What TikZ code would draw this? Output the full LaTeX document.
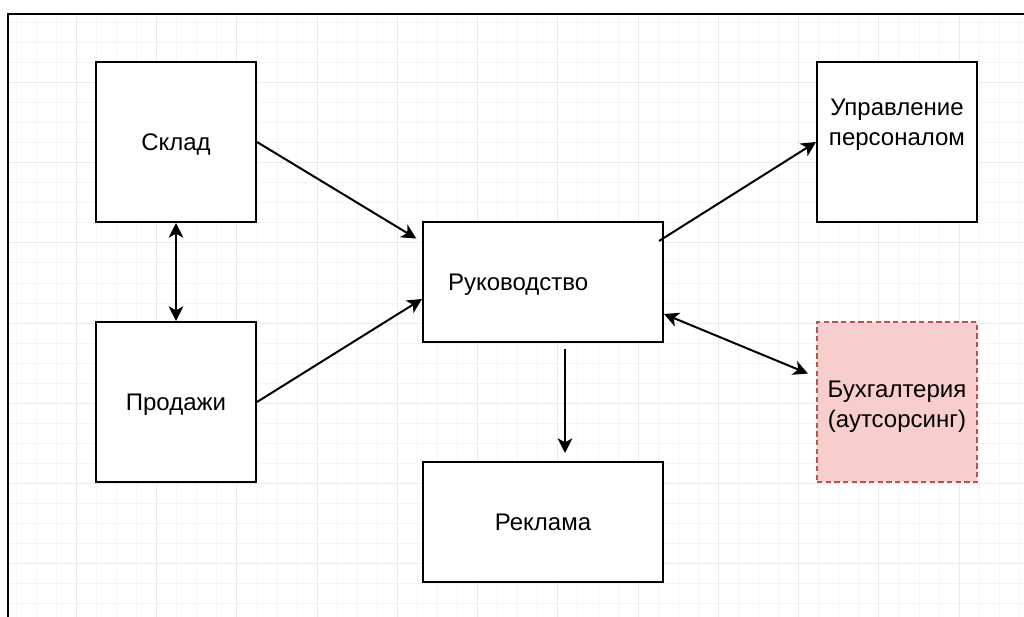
\documentclass[tikz,border=0pt]{standalone}
\usepackage{fontspec}
\setmainfont{Liberation Sans}
\usetikzlibrary{arrows.meta}
\definecolor{buhfill}{HTML}{F8CECC}
\definecolor{buhline}{HTML}{B85450}

\begin{document}
\begin{tikzpicture}[x=0.75pt, y=-0.75pt, thick,
		>={Stealth[length=11pt, width=11pt, inset=3pt]},
		box/.style={rectangle, draw, line width=1.5pt, fill=white, inner sep=0pt,
			font=\fontsize{18}{22.5}\selectfont, align=center, text depth=0pt},
		sq/.style={box, minimum width=120pt, minimum height=120pt},
		wide/.style={box, minimum width=180pt, minimum height=90pt},
		inbox/.style={font=\fontsize{18}{22.5}\selectfont, align=center},
		link/.style={line width=1.5pt},
		minorline/.style={draw=black!4, line width=0.75pt},
		majorline/.style={draw=black!8, line width=0.75pt}
		]
	\useasboundingbox (0,0) rectangle (1024,617);
	% grid
	\foreach \k in {-3,...,47} \draw[minorline] ({round(76+\k*20.06)+0.5},14) -- ({round(76+\k*20.06)+0.5},617);
	\foreach \k in {-3,...,26} \draw[minorline] (8,{round(82+\k*20.05)+0.5}) -- (1024,{round(82+\k*20.05)+0.5});
	\foreach \k in {0,...,11} \draw[majorline] ({round(76+\k*80.24)+0.5},14) -- ({round(76+\k*80.24)+0.5},617);
	\foreach \k in {0,...,6} \draw[majorline] (8,{round(82+\k*80.2)+0.5}) -- (1024,{round(82+\k*80.2)+0.5});
	\draw[line width=1.6pt] (8,617) -- (8,14) -- (1024,14);

	\node [sq] (sklad) at (176,142) {Склад};
	\node [sq] (prod) at (176,402) {Продажи};
	\node [wide, align=left, text width=142.5pt, inner xsep=18.75pt] (ruk) at (543,282) {Руководство};
	\node [wide] (rekl) at (543,522) {Реклама};
	\node [sq, label={[inbox, name=uprtext, yshift=12.6pt]center:Управление\\персоналом}] (upr) at (897,142) {};
	\node [sq, draw=buhline, fill=buhfill, line width=1.1pt, dash pattern=on 4pt off 2.5pt,
		label={[inbox, name=buhtext, yshift=-3.4pt]center:Бухгалтерия\\(аутсорсинг)}] (buh) at (897,402) {};

	\draw [link,->, shorten >=5pt] (sklad.east) -- ([shift={(0,-40)}]ruk.west);
	\draw [link,->] (prod.east) -- ([shift={(0,17)}]ruk.west);
	\draw [link,<->] (sklad.south) -- (prod.north);
	\draw [link,->] ([shift={(-5,-41)}]ruk.east) -- (upr.west);
	\draw [link,<->, shorten >=6.75pt] ([shift={(0,32)}]ruk.east) -- ([shift={(0,-25)}]buh.west);
	\draw [link,->, shorten <=4.5pt, shorten >=6pt] ([shift={(22,0)}]ruk.south) -- ([shift={(22,0)}]rekl.north);
\end{tikzpicture}
\end{document}
